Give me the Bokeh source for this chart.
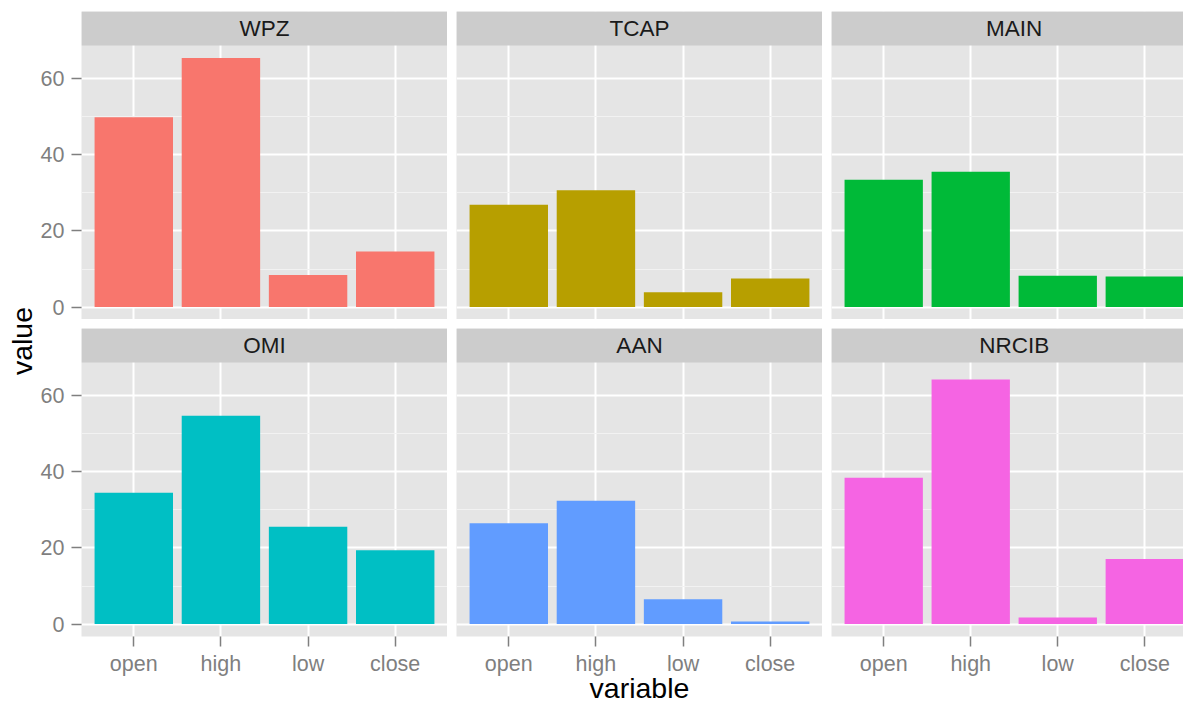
import math
from bokeh.plotting import figure
from bokeh.models import Range1d, FixedTicker, Grid
from bokeh.layouts import row, column
from bokeh.embed import file_html
from bokeh.resources import INLINE
from bokeh.core.properties import value

# ---- data ----
variables = ["open", "high", "low", "close"]
symbols = ["WPZ", "TCAP", "MAIN", "OMI", "AAN", "NRCIB"]
wpz = [49.9, 65.5, 8.4, 14.6]
tcap = [26.9, 30.7, 3.9, 7.5]
main = [33.5, 35.6, 8.2, 8.0]
omi = [34.5, 54.8, 25.6, 19.4]
aan = [26.5, 32.4, 6.5, 0.7]
nrcib = [38.5, 64.3, 1.7, 17.1]
y_ticks = [0, 20, 40, 60]
y_minor = [10, 30, 50]
colors = ["#F8766D", "#B79F00", "#00BA38", "#00BFC4", "#619CFF", "#F564E3"]

series = [wpz, tcap, main, omi, aan, nrcib]

# ---- layout / style ----
FONT = "Liberation Sans"
PANEL_W = 366
PANEL_H = 274
STRIP_H = 34
GAP = 9
LEFT_AXIS = 44
LABEL_W = 37
TOP_PAD = 11
BOTTOM_AXIS = 62
RIGHT_VISIBLE = 4.445   # the reference image is cropped on the right
TICK_FS = "21.5px"
STRIP_FS = "22.5px"
TITLE_FS = "28.5px"

ymax = max(max(s) for s in series)
ylo = -0.05 * ymax
yhi = ymax * 1.05
strip_units = STRIP_H / PANEL_H * (yhi - ylo)
ytop = yhi + strip_units

xs = list(range(1, len(variables) + 1))
xlo = 1 - 0.6
xhi = len(variables) + 0.6

figs = []
for i, (sym, vals, col) in enumerate(zip(symbols, series, colors)):
    r, c = divmod(i, 3)
    x_end = xhi if c < 2 else RIGHT_VISIBLE
    fw = PANEL_W if c < 2 else int(PANEL_W * (RIGHT_VISIBLE - xlo) / (xhi - xlo))
    fh = PANEL_H + STRIP_H
    bl = LEFT_AXIS if c == 0 else GAP
    bt = TOP_PAD if r == 0 else GAP
    bb = 0 if r == 0 else BOTTOM_AXIS
    p = figure(width=bl + fw, height=bt + fh + bb,
               frame_width=fw, frame_height=fh,
               x_range=Range1d(xlo, x_end), y_range=Range1d(ylo, ytop),
               x_axis_location="below" if r == 1 else None,
               y_axis_location="left" if c == 0 else None,
               toolbar_location=None, output_backend="svg",
               min_border_left=bl, min_border_right=0,
               min_border_top=bt, min_border_bottom=bb)
    p.background_fill_color = "#E5E5E5"
    p.border_fill_color = "white"
    p.outline_line_color = None

    # own grids
    p.center = []
    gx = Grid(dimension=0, ticker=FixedTicker(ticks=xs),
              grid_line_color="white", grid_line_width=2)
    gy = Grid(dimension=1, ticker=FixedTicker(ticks=y_ticks, minor_ticks=y_minor),
              grid_line_color="white", grid_line_width=2,
              minor_grid_line_color="#F2F2F2", minor_grid_line_width=1)
    p.add_layout(gx, "center")
    p.add_layout(gy, "center")

    # bars
    p.vbar(x=xs, top=vals, bottom=0, width=0.9, fill_color=col, line_color=None)

    # facet strip
    p.quad(left=[xlo], right=[xhi], bottom=[yhi], top=[ytop],
           fill_color="#CCCCCC", line_color=None)
    p.text(x=[(xlo + xhi) / 2], y=[(yhi + ytop) / 2], text=[sym],
           text_align="center", text_baseline="middle",
           text_font=value(FONT), text_font_size=STRIP_FS, text_color="#1A1A1A")

    if c == 0:
        ax = p.yaxis[0]
        ax.ticker = FixedTicker(ticks=y_ticks)
        ax.axis_line_color = None
        ax.major_tick_line_color = "#7F7F7F"
        ax.major_tick_line_width = 1.5
        ax.major_tick_out = 10
        ax.major_tick_in = 0
        ax.minor_tick_line_color = None
        ax.major_label_text_color = "#7F7F7F"
        ax.major_label_text_font = FONT
        ax.major_label_text_font_size = TICK_FS
        ax.major_label_standoff = 7
    if r == 1:
        ax = p.xaxis[0]
        ax.ticker = FixedTicker(ticks=xs)
        ax.major_label_overrides = dict(zip(xs, variables))
        ax.axis_line_color = None
        ax.major_tick_line_color = "#7F7F7F"
        ax.major_tick_line_width = 1.5
        ax.major_tick_out = 10
        ax.major_tick_in = 0
        ax.minor_tick_line_color = None
        ax.major_label_text_color = "#7F7F7F"
        ax.major_label_text_font = FONT
        ax.major_label_text_font_size = TICK_FS
        ax.major_label_standoff = 5
        if c == 1:
            ax.axis_label = "variable"
            ax.axis_label_text_font = FONT
            ax.axis_label_text_font_size = TITLE_FS
            ax.axis_label_text_font_style = "normal"
            ax.axis_label_text_color = "black"
            ax.axis_label_standoff = -7
    figs.append(p)

top_h = TOP_PAD + PANEL_H + STRIP_H
bot_h = GAP + PANEL_H + STRIP_H + BOTTOM_AXIS
total_h = top_h + bot_h

# y axis title shared by all rows
lf = figure(width=LABEL_W, height=total_h,
            x_range=Range1d(0, LABEL_W), y_range=Range1d(total_h, 0),
            x_axis_location=None, y_axis_location=None,
            toolbar_location=None, output_backend="svg", min_border=0)
lf.outline_line_color = None
lf.grid.visible = False
panel_top = TOP_PAD + STRIP_H
panel_bottom = top_h + GAP + STRIP_H + PANEL_H
lf.text(x=[21], y=[(panel_top + panel_bottom) / 2], text=["value"],
        angle=math.pi / 2, text_align="center", text_baseline="middle",
        text_font=value(FONT), text_font_size=TITLE_FS, text_color="black")

layout = row(lf, column(row(figs[0], figs[1], figs[2]),
                        row(figs[3], figs[4], figs[5])))

open("out.html", "w").write(file_html(layout, INLINE))
